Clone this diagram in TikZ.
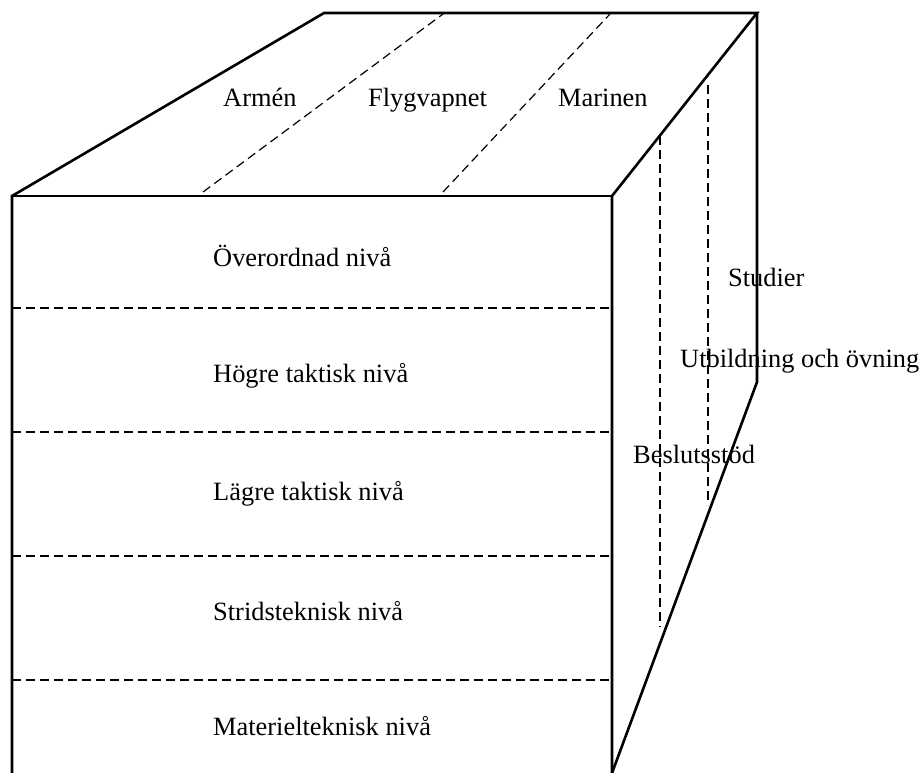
\documentclass[tikz,border=0pt]{standalone}
\usepackage{fontspec}
\setmainfont{Liberation Serif}
\tikzset{kant/.style={line width=2.6pt, line join=miter}}
\tikzset{streck/.style={line width=1.2pt, dash pattern=on 9pt off 5pt}}
\tikzset{etikett/.style={anchor=base west, inner sep=0pt, font=\fontsize{26.4}{30}\selectfont}}

\begin{document}
\begin{tikzpicture}[x=1pt, y=-1pt]
		\useasboundingbox (0,0) rectangle (923,773);
		
		% kubens hörn
		\coordinate (fvo) at (12,196);
		\coordinate (fho) at (612,196);
		\coordinate (fvu) at (12,773);
		\coordinate (fhu) at (612,773);
		\coordinate (bvo) at (324,13);
		\coordinate (bho) at (757,13);
		\coordinate (bhm) at (757,382);
		
		\draw[kant] (fvu) -- (fvo) -- (bvo) -- (bho) -- (fho) -- (fhu);
		\draw[kant] (fvo) -- (fho);
		\draw[kant] (bho) -- (bhm) -- (fhu);
		
		% indelning ovansida
		\draw[streck] (203,192) -- (443,14);
		\draw[streck] (443,192) -- (610,14);
		
		% indelning framsida
		\foreach \y in {308,432,556,680}
			\draw[streck] (12,\y) -- (612,\y);
		
		% indelning sida
		\draw[streck] (660,136) -- (660,627);
		\draw[streck] (708,85) -- (708,505);
		
		\node[etikett] (armen) at (223,107) {Armén};
		\node[etikett] (flyg) at (368,107) {Flygvapnet};
		\node[etikett] (marin) at (558,107) {Marinen};
		
		\node[etikett] (over) at (213,266) {Överordnad nivå};
		\node[etikett] (hogre) at (213,382) {Högre taktisk nivå};
		\node[etikett] (lagre) at (213,500) {Lägre taktisk nivå};
		\node[etikett] (strid) at (213,620) {Stridsteknisk nivå};
		\node[etikett] (mat) at (213,735) {Materielteknisk nivå};
		
		\node[etikett] (stud) at (728,286) {Studier};
		\node[etikett] (utb) at (680,367) {Utbildning och övning};
		\node[etikett] (besl) at (633,463) {Beslutsstöd};
\end{tikzpicture}
\end{document}
